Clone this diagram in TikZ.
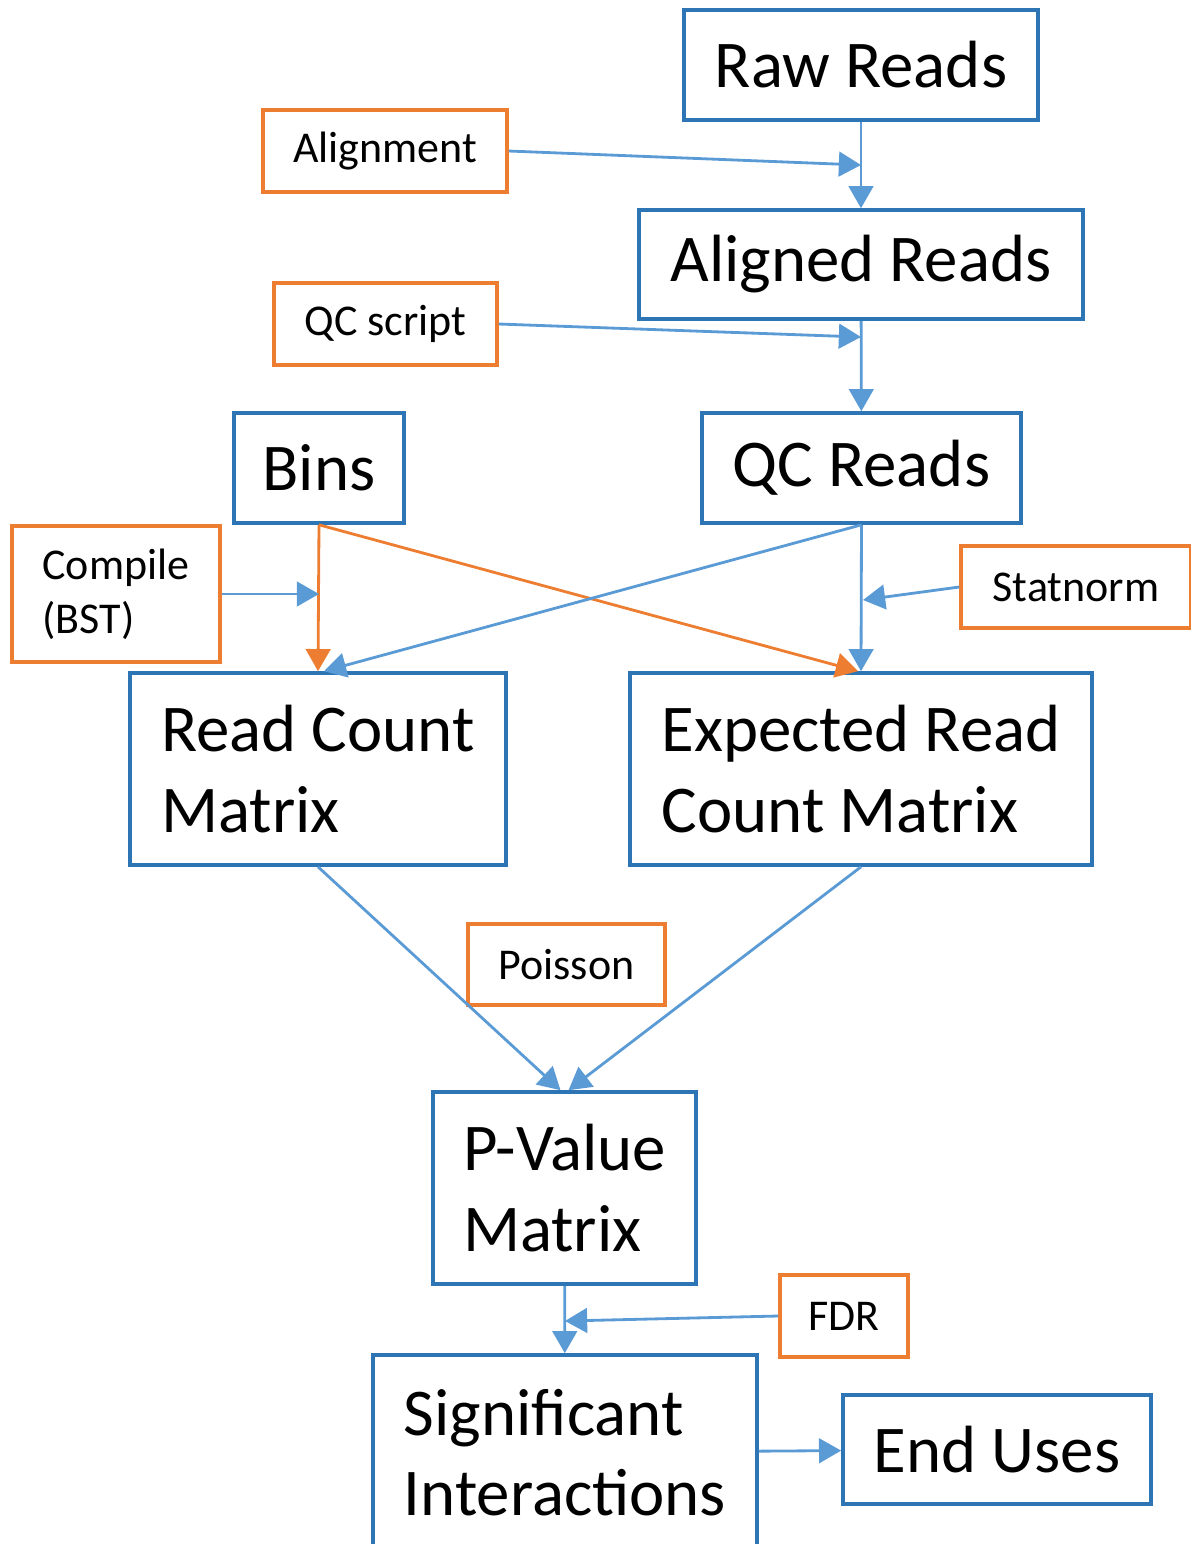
\documentclass[tikz,border=0pt]{standalone}
\usepackage{fontspec}
\setmainfont{Carlito}
\usetikzlibrary{arrows.meta, positioning, calc}
\definecolor{hcblue}{HTML}{2E75B6}
\definecolor{hcarrow}{HTML}{5B9BD5}
\definecolor{hcorange}{HTML}{ED7D31}

\begin{document}
\begin{tikzpicture}[x=0.01cm, y=-0.01cm,
      data/.style={draw=hcblue, line width=1pt, inner sep=0pt, align=left, font=\fontsize{19}{22.8}\selectfont},
      tool/.style={draw=hcorange, line width=1pt, inner sep=0pt, align=left, font=\fontsize{12.5}{15.4}\selectfont},
      flow/.style={-{Triangle[length=6.3pt, width=7pt]}, hcarrow, line width=0.8pt},
      oflow/.style={flow, hcorange}]
      \useasboundingbox (0,0) rectangle (1191,1544);
      % data products
      \node[data, minimum width=3.54cm, minimum height=1.10cm] (raw) at (861,65) {Raw Reads};
      \node[data, minimum width=4.44cm, minimum height=1.09cm] (aligned) at (861,264.5) {Aligned Reads};
      \node[data, minimum width=3.19cm, minimum height=1.10cm] (qcreads) at (861.5,468) {QC Reads};
      \node[data, minimum width=1.70cm, minimum height=1.10cm] (bins) at (319,468) {Bins};
      \node[data, minimum width=3.76cm, minimum height=1.92cm] (rcm) at (318,769) {Read Count\\Matrix};
      \node[data, minimum width=4.62cm, minimum height=1.92cm] (ercm) at (861,769) {Expected Read\\Count Matrix};
      \node[data, minimum width=2.63cm, minimum height=1.92cm] (pval) at (564.5,1188) {P-Value\\Matrix};
      \node[data, minimum width=3.84cm, minimum height=1.95cm] (sig) at (565,1452.5) {Significant\\Interactions};
      \node[data, minimum width=3.08cm, minimum height=1.09cm] (enduses) at (997,1449.5) {End Uses};
      % tools
      \node[tool, minimum width=2.44cm, minimum height=0.82cm] (alignment) at (385,151) {Alignment};
      \node[tool, minimum width=2.23cm, minimum height=0.82cm] (qcscript) at (385.5,324) {QC script};
      \node[tool, minimum width=2.08cm, minimum height=1.36cm] (compile) at (116,594) {Compile\\(BST)};
      \node[tool, minimum width=2.30cm, minimum height=0.82cm] (statnorm) at (1076,587) {Statnorm};
      \node[tool, minimum width=1.97cm, minimum height=0.81cm] (poisson) at (566.5,964.5) {Poisson};
      \node[tool, minimum width=1.28cm, minimum height=0.82cm] (fdr) at (844,1316) {FDR};
      % join points on the flow lines
      \coordinate (alignjoin) at ($(raw.south)!0.5!(aligned.north)$);
      \coordinate (qcjoin) at (861,337);
      \coordinate (compilejoin) at (319,594);
      \coordinate (statjoin) at (863,600);
      \coordinate (fdrjoin) at (565,1321);
      \draw[flow] (raw)--(aligned); \draw[flow] (aligned)--(qcreads);
      \draw[flow] (alignment.east)--(alignjoin); \draw[flow] (qcscript.east)--(qcjoin);
      \draw[oflow] (bins.south)--(rcm.north);
      \draw[oflow] (bins.south)--($(ercm.north)+(-3,0)$);
      \draw[flow] (qcreads.south)--($(rcm.north)+(6,0)$);
      \draw[flow] (qcreads.south)--(ercm.north);
      \draw[flow] (compile.east)--(compilejoin); \draw[flow] (statnorm.west)--(statjoin);
      \draw[flow] (rcm.south)--($(pval.north)+(-4,0)$);
      \draw[flow] (ercm.south)--($(pval.north)+(4,0)$);
      \draw[flow] (pval)--(sig); \draw[flow] (fdr.west)--(fdrjoin);
      \draw[flow] (sig)--(enduses);
    \end{tikzpicture}
\end{document}
